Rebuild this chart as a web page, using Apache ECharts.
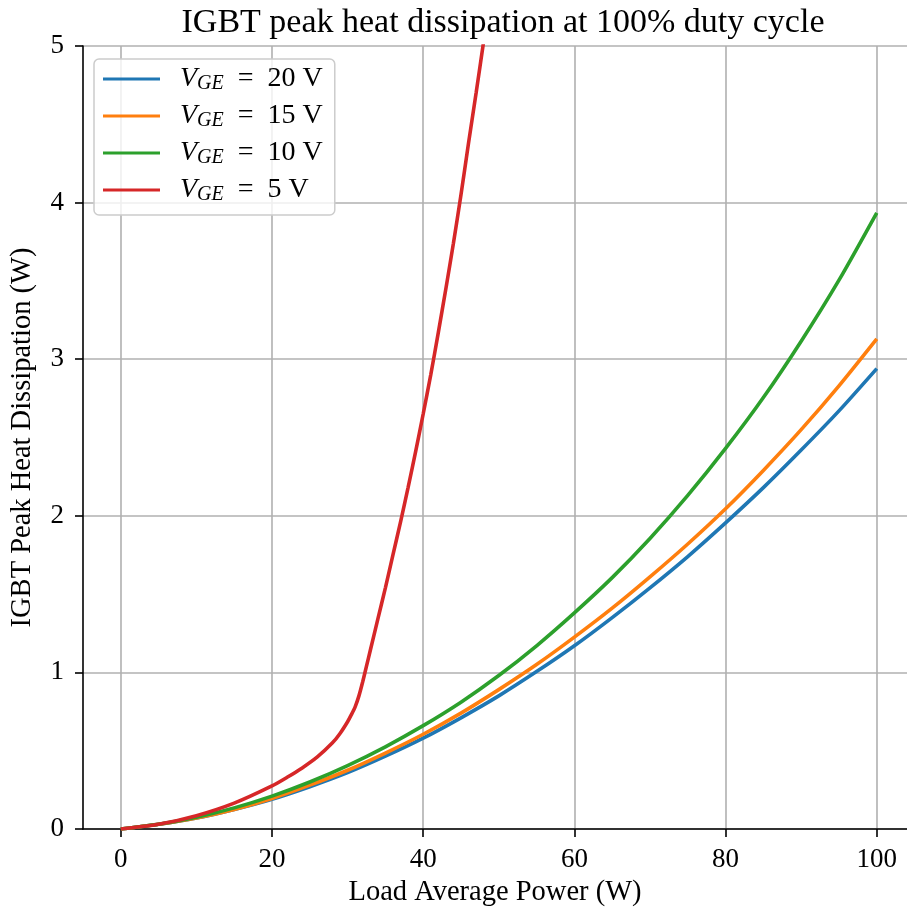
<!DOCTYPE html>
<html>
<head>
<meta charset="utf-8">
<script src="https://cdn.jsdelivr.net/npm/echarts@6/dist/echarts.min.js"></script>
<style>
html,body{margin:0;padding:0;background:#fff;overflow:hidden;}
#chart{width:907px;height:913px;}
</style>
</head>
<body>
<div id="chart"></div>
<script>
// ---- data ----
const titleText = 'IGBT peak heat dissipation at 100% duty cycle';
const xAxisName = 'Load Average Power (W)';
const yAxisName = 'IGBT Peak Heat Dissipation (W)';
const vgeValues = [20, 15, 10, 5];
const xTicks = [0, 20, 40, 60, 80, 100];
const yTicks = [0, 1, 2, 3, 4, 5];

const loadPower = [0, 5, 10, 15, 20, 25, 30, 35, 40, 45, 50, 55, 60, 65, 70, 75, 80, 85, 90, 95, 100];
const heat20V = [0, 0.03, 0.07, 0.125, 0.19, 0.27, 0.36, 0.465, 0.58, 0.71, 0.85, 1.005, 1.17, 1.35, 1.54, 1.74, 1.955, 2.18, 2.42, 2.67, 2.94];
const heat15V = [0, 0.03, 0.07, 0.125, 0.195, 0.28, 0.375, 0.485, 0.605, 0.74, 0.89, 1.05, 1.225, 1.41, 1.61, 1.82, 2.045, 2.29, 2.55, 2.83, 3.13];
const heat10V = [0, 0.03, 0.075, 0.135, 0.21, 0.30, 0.405, 0.525, 0.66, 0.81, 0.98, 1.17, 1.38, 1.605, 1.855, 2.13, 2.43, 2.755, 3.115, 3.505, 3.935];

const loadPower5V = [0, 5, 10, 15, 20, 22, 24, 26, 28, 29, 30, 30.5, 31, 31.5, 32, 32.5, 33, 34, 35, 36, 37, 38, 39, 40, 41, 42, 43, 44, 45, 46, 47, 48, 49, 50];
const heat5V = [0, 0.03, 0.085, 0.165, 0.275, 0.33, 0.39, 0.46, 0.55, 0.61, 0.685, 0.73, 0.78, 0.85, 0.94, 1.04, 1.14, 1.34, 1.54, 1.75, 1.96, 2.18, 2.41, 2.65, 2.90, 3.17, 3.45, 3.74, 4.05, 4.38, 4.70, 5.03, 5.36, 5.70];

const colors = ['#1f77b4', '#ff7f0e', '#2ca02c', '#d62728'];
// ---- chart ----
const FONT = '"Liberation Serif", "Times New Roman", serif';
const zip = (xs, ys) => xs.map((x, i) => [x, ys[i]]);
const seriesData = [
  zip(loadPower, heat20V),
  zip(loadPower, heat15V),
  zip(loadPower, heat10V),
  zip(loadPower5V, heat5V)
];
const names = vgeValues.map(v => 'VGE = ' + v + ' V');

const chart = echarts.init(document.getElementById('chart'), null, {renderer: 'canvas'});
chart.setOption({
  animation: false,
  backgroundColor: '#ffffff',
  title: {
    text: titleText,
    left: 498, textAlign: 'center',
    top: 1,
    textStyle: {fontFamily: FONT, fontSize: 34, fontWeight: 'normal', color: '#000'}
  },
  legend: {
    orient: 'vertical',
    left: 94, top: 59,
    padding: [5, 12, 10, 9],
    itemGap: 7,
    itemWidth: 57, itemHeight: 3,
    icon: 'rect',
    backgroundColor: 'rgba(255,255,255,0.8)',
    borderColor: '#cccccc', borderWidth: 1.5, borderRadius: 5,
    data: names,
    formatter: function (name) {
      const v = name.replace('VGE = ', '');
      return '{it|V}{sub|GE}{rm|\u2002=\u2002' + v + '}';
    },
    textStyle: {
      fontFamily: FONT, fontSize: 27, color: '#000', lineHeight: 30,
      padding: [0, 0, 0, 15],
      rich: {
        it: {fontFamily: FONT, fontSize: 28, fontStyle: 'italic', color: '#000', lineHeight: 30},
        sub: {fontFamily: FONT, fontSize: 20, fontStyle: 'italic', color: '#000', lineHeight: 30, padding: [10, 0, 0, 0]},
        rm: {fontFamily: FONT, fontSize: 28, color: '#000', lineHeight: 30}
      }
    }
  },
  grid: {left: 81, top: 46, right: 0, bottom: 84, containLabel: false},
  xAxis: {
    type: 'value', min: -5, max: 104,
    name: xAxisName, nameLocation: 'middle', nameGap: 46,
    nameTextStyle: {fontFamily: FONT, fontSize: 28.5, color: '#000'},
    axisLine: {show: true, onZero: false, lineStyle: {color: '#000', width: 1.6}},
    axisTick: {show: true, customValues: xTicks, length: 8, inside: false, lineStyle: {color: '#000', width: 1.6}},
    axisLabel: {customValues: xTicks, margin: 17, fontFamily: FONT, fontSize: 27, color: '#000'},
    splitLine: {show: true, lineStyle: {color: '#b0b0b0', width: 1.6}}
  },
  yAxis: {
    type: 'value', min: 0, max: 5, interval: 1,
    name: yAxisName, nameLocation: 'middle', nameGap: 46, nameRotate: 90,
    nameTextStyle: {fontFamily: FONT, fontSize: 28.5, color: '#000'},
    axisLine: {show: true, onZero: false, lineStyle: {color: '#000', width: 1.6}},
    axisTick: {show: true, length: 8, lineStyle: {color: '#000', width: 1.6}},
    axisLabel: {margin: 19, fontFamily: FONT, fontSize: 27, color: '#000',
      formatter: v => (yTicks.indexOf(v) >= 0 ? String(v) : '')},
    splitLine: {show: true, lineStyle: {color: '#b0b0b0', width: 1.6}}
  },
  series: names.map((n, i) => ({
    name: n, type: 'line', data: seriesData[i],
    showSymbol: false, symbol: 'none', smooth: 0.25, clip: true,
    lineStyle: {color: colors[i], width: 3.6},
    itemStyle: {color: colors[i]},
    z: 2 + i
  }))
});
</script>
</body>
</html>
